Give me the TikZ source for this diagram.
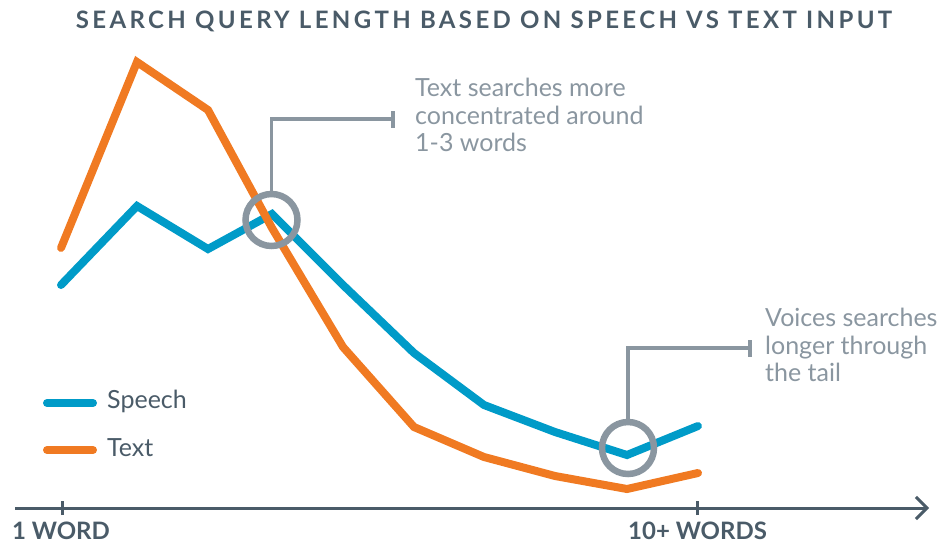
\documentclass[tikz,border=0pt]{standalone}
\usepackage{fontspec}
\setmainfont{Lato}
\newfontfamily\titlefont{Lato}[LetterSpace=14]
\usetikzlibrary{arrows.meta}
\definecolor{cOrange}{HTML}{F07A22}
\definecolor{cBlue}{HTML}{009BC8}
\definecolor{cGray}{HTML}{8A96A0}
\definecolor{cDark}{HTML}{4A5B68}
\tikzset{
  speechline/.style={draw=cBlue, line width=8pt, line cap=round, line join=miter},
  textline/.style={draw=cOrange, line width=8pt, line cap=round, line join=miter},
  ring/.style={circle, draw=cGray, line width=6.5pt, minimum size=52pt, inner sep=0pt},
  leader/.style={draw=cGray, line width=3.5pt},
  axisline/.style={draw=cDark, line width=3pt},
  note/.style={text=cGray, font=\fontsize{25}{27.5}\selectfont, align=left, inner sep=0pt, anchor=north west},
  legtext/.style={text=cDark, font=\fontsize{25}{28}\selectfont, inner sep=0pt, anchor=west},
  axlabel/.style={text=cDark, font=\fontsize{24}{28}\selectfont\bfseries, inner sep=0pt, anchor=west},
}
\begin{document}
\begin{tikzpicture}[x=1pt,y=-1pt]
\useasboundingbox (0,0) rectangle (947,544);
% title
\node[text=cDark, font=\fontsize{24}{28}\selectfont\titlefont\bfseries, inner sep=0pt] (title) at (484,21) {SEARCH QUERY LENGTH BASED ON SPEECH VS TEXT INPUT};
% data coordinates
\coordinate (s1) at (61,285);
\coordinate (s2) at (137,206);
\coordinate (s3) at (208,249);
\coordinate (s4) at (272,214);
\coordinate (s5) at (343,285);
\coordinate (s6) at (414,353);
\coordinate (s7) at (484,405);
\coordinate (s8) at (555,432);
\coordinate (s9) at (627,455);
\coordinate (s10) at (698,426);
\coordinate (t1) at (61,248);
\coordinate (t2) at (137,62);
\coordinate (t3) at (208,110);
\coordinate (t4) at (272,228);
\coordinate (t5) at (343,347);
\coordinate (t6) at (414,427);
\coordinate (t7) at (484,457);
\coordinate (t8) at (555,476);
\coordinate (t9) at (627,489);
\coordinate (t10) at (698,473);
\draw[speechline] (s1) -- (s2) -- (s3) -- (s4) -- (s5) -- (s6) -- (s7) -- (s8) -- (s9) -- (s10);
\draw[textline] (t1) -- (t2) -- (t3) -- (t4) -- (t5) -- (t6) -- (t7) -- (t8) -- (t9) -- (t10);
% annotation rings
\node[ring] (c1) at (271.5,220) {};
\node[ring] (c2) at (628,448) {};
\coordinate (k1) at (393,119);
\coordinate (k2) at (750,348);
\draw[leader] (c1.north) |- (k1);
\draw[leader] ([yshift=-8.5pt]k1) -- ([yshift=8.5pt]k1);
\draw[leader] (c2.north) |- (k2);
\draw[leader] ([yshift=-8.5pt]k2) -- ([yshift=8.5pt]k2);
\node[note] (n1) at (415,78) {Text searches more\\concentrated around\\1-3 words};
\node[note] (n2) at (765,308) {Voices searches\\longer through\\the tail};
% legend
\coordinate (la) at (47,403);
\coordinate (lb) at (93,403);
\coordinate (lc) at (47,450);
\coordinate (ld) at (93,450);
\draw[speechline] (la) -- (lb);
\draw[textline] (lc) -- (ld);
\node[legtext] (lg1) at (107,401) {Speech};
\node[legtext] (lg2) at (107,448) {Text};
% axis
\coordinate (a0) at (15,508);
\coordinate (a1) at (929,508);
\draw[axisline, -{Straight Barb[length=11pt,width=22pt]}] (a0) -- (a1);
\coordinate (x1) at (62,508);
\coordinate (x2) at (697,508);
\draw[axisline] ([yshift=-7pt]x1) -- ([yshift=7pt]x1);
\draw[axisline] ([yshift=-7pt]x2) -- ([yshift=7pt]x2);
\node[axlabel] (lab1) at (12,530.5) {1 WORD};
\node[axlabel] (lab2) at (628,530.5) {10+ WORDS};
\end{tikzpicture}
\end{document}
